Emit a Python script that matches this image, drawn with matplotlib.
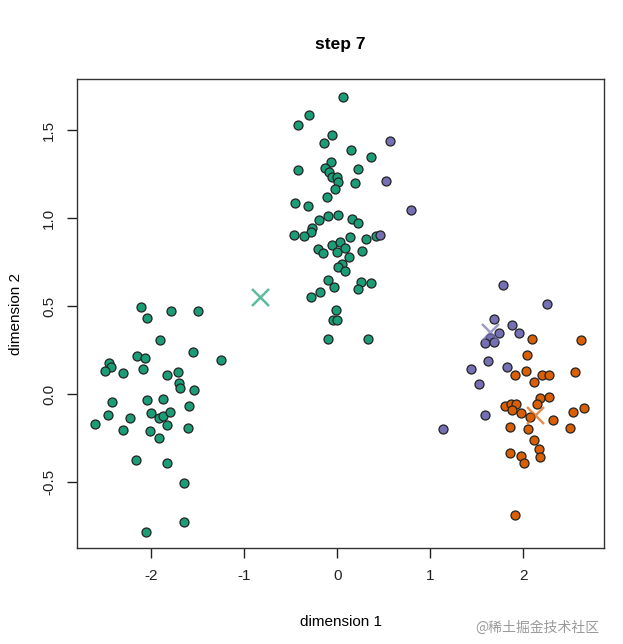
import matplotlib
matplotlib.use('Agg')
import matplotlib.pyplot as plt
import numpy as np

plt.rcParams['font.family'] = ['Liberation Sans', 'DejaVu Sans']

# cluster 1 (green)
green_x = [-2.115, -2.047, -1.788, -1.495, -1.903, -1.548, -1.247, -2.158, -2.068, -2.452,
           -2.437, -2.495, -2.305, -2.086, -1.828, -1.717, -1.699, -1.695, -1.545, -2.427,
           -2.050, -1.878, -1.599, -2.470, -2.226, -2.000, -1.914, -1.871, -1.796, -2.602,
           -1.832, -2.301, -2.014, -1.609, -1.918, -2.168, -1.832, -1.645, -1.652, -2.054,
           0.065, -0.308, -0.427, -0.057, -0.140, 0.147, 0.362, -0.072, -0.136, -0.419,
           0.222, -0.090, -0.054, 0.000, 0.011, 0.186, -0.029, -0.111, -0.455, -0.315,
           -0.097, 0.004, -0.197, 0.161, 0.219, -0.276, -0.283, -0.462, -0.355, 0.136,
           0.305, 0.412, -0.054, 0.032, -0.208, -0.158, 0.000, 0.086, 0.265, 0.122,
           0.054, 0.011, 0.082, -0.100, -0.036, 0.251, 0.366, 0.222, -0.186, -0.280,
           -0.011, -0.047, -0.007, -0.097, 0.333]
green_y = [0.493, 0.434, 0.472, 0.472, 0.309, 0.240, 0.195, 0.218, 0.205, 0.178,
           0.152, 0.133, 0.121, 0.142, 0.108, 0.127, 0.064, 0.036, 0.021, -0.047,
           -0.034, -0.025, -0.070, -0.116, -0.133, -0.110, -0.138, -0.125, -0.102, -0.169,
           -0.176, -0.205, -0.208, -0.195, -0.252, -0.373, -0.390, -0.504, -0.727, -0.782,
           1.691, 1.589, 1.532, 1.472, 1.428, 1.390, 1.345, 1.320, 1.284, 1.273,
           1.282, 1.263, 1.235, 1.235, 1.206, 1.201, 1.165, 1.119, 1.089, 1.070,
           1.015, 1.019, 0.987, 0.996, 0.973, 0.945, 0.920, 0.907, 0.898, 0.894,
           0.879, 0.896, 0.847, 0.862, 0.826, 0.801, 0.807, 0.833, 0.811, 0.778,
           0.739, 0.722, 0.701, 0.648, 0.608, 0.638, 0.629, 0.600, 0.581, 0.551,
           0.477, 0.422, 0.422, 0.313, 0.311]

# cluster 2 (purple)
purple_x = [0.566, 0.527, 0.796, 0.459, 1.778, 2.254, 1.688, 1.878, 1.742, 1.957,
            1.645, 1.584, 1.681, 1.624, 1.437, 1.824, 1.520, 1.591, 1.136]
purple_y = [1.439, 1.212, 1.045, 0.905, 0.623, 0.513, 0.428, 0.394, 0.345, 0.350,
            0.320, 0.292, 0.294, 0.191, 0.142, 0.155, 0.055, -0.121, -0.197]

# cluster 3 (orange)
orange_x = [2.100, 2.624, 2.039, 2.032, 1.910, 2.197, 2.276, 2.559, 2.115, 2.176,
            2.283, 2.151, 1.806, 1.874, 1.928, 1.882, 1.978, 2.075, 2.659, 2.541,
            2.319, 2.505, 1.853, 2.047, 2.118, 2.168, 1.857, 1.978, 2.179, 2.007, 1.914]
orange_y = [0.314, 0.305, 0.223, 0.133, 0.106, 0.110, 0.110, 0.123, 0.070, -0.021,
            -0.017, -0.055, -0.066, -0.055, -0.055, -0.091, -0.106, -0.129, -0.078, -0.104,
            -0.149, -0.195, -0.189, -0.201, -0.261, -0.313, -0.337, -0.350, -0.358, -0.390, -0.686]

# centroids: green, purple, orange
cent_x = [-0.828, 1.638, 2.122]
cent_y = [0.551, 0.354, -0.119]

colors = ['#1B9E77', '#7570B3', '#D95F02']

fig = plt.figure(figsize=(6.23, 6.44), dpi=100)
ax = fig.add_axes([0.1236, 0.149, 0.846, 0.728])

for xs, ys, c in zip([green_x, purple_x, orange_x], [green_y, purple_y, orange_y], colors):
    ax.scatter(xs, ys, s=42, c=c, edgecolors='#222222', linewidths=0.9, zorder=3)

for cx, cy, c in zip(cent_x, cent_y, colors):
    ax.scatter(cx, cy, s=150, marker='x', c=c, alpha=0.7, linewidths=1.8, zorder=4)

ax.set_xlim(-2.80, 2.87)
ax.set_ylim(-0.875, 1.79)
ax.set_xticks([-2, -1, 0, 1, 2])
ax.set_yticks([-0.5, 0.0, 0.5, 1.0, 1.5])
ax.set_xticklabels(['-2', '-1', '0', '1', '2'])
ax.set_yticklabels(['-0.5', '0.0', '0.5', '1.0', '1.5'], rotation=90, va='center')
ax.tick_params(direction='out', length=7, width=1, labelsize=11, colors='#222222', pad=8)
for sp in ax.spines.values():
    sp.set_color('#333333')
    sp.set_linewidth(1)

ax.set_xlabel('dimension 1', fontsize=11, labelpad=23)
ax.set_ylabel('dimension 2', fontsize=11, labelpad=14)
ax.set_title('step 7', fontsize=12.5, fontweight='bold', pad=22)

fig.text(0.962, 0.026, '@稀土掘金技术社区', fontsize=10, color='#999999', ha='right', va='center',
         family=['Noto Sans CJK SC', 'DejaVu Sans'])

fig.savefig('out.png', dpi=100)
